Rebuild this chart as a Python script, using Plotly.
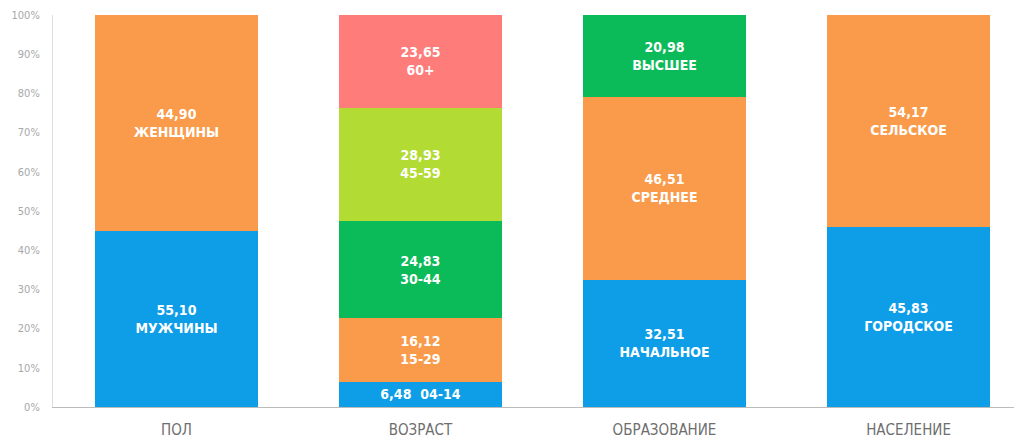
import plotly.graph_objects as go

categories = ["ПОЛ", "ВОЗРАСТ", "ОБРАЗОВАНИЕ", "НАСЕЛЕНИЕ"]

# segment heights per stacking level (bottom to top)
level1_values = [44.90, 6.48, 32.51, 45.83]
level2_values = [55.10, 16.12, 46.51, 54.17]
level3_values = [None, 24.83, 20.98, None]
level4_values = [None, 28.93, None, None]
level5_values = [None, 23.65, None, None]

# labels printed inside the segments
level1_labels = ["55,10<br>МУЖЧИНЫ", "6,48  04-14", "32,51<br>НАЧАЛЬНОЕ", "45,83<br>ГОРОДСКОЕ"]
level2_labels = ["44,90<br>ЖЕНЩИНЫ", "16,12<br>15-29", "46,51<br>СРЕДНЕЕ", "54,17<br>СЕЛЬСКОЕ"]
level3_labels = ["", "24,83<br>30-44", "20,98<br>ВЫСШЕЕ", ""]
level4_labels = ["", "28,93<br>45-59", "", ""]
level5_labels = ["", "23,65<br>60+", "", ""]

y_tickvals = [0, 10, 20, 30, 40, 50, 60, 70, 80, 90, 100]
y_ticktext = ["0%", "10%", "20%", "30%", "40%", "50%", "60%", "70%", "80%", "90%", "100%"]

colors = ["#0E9EE8", "#F99B4A", "#0BBA59", "#B2DB34", "#FE7C79"]
levels = [
    (level1_values, level1_labels),
    (level2_values, level2_labels),
    (level3_values, level3_labels),
    (level4_values, level4_labels),
    (level5_values, level5_labels),
]

FONT = "DejaVu Sans Condensed, DejaVu Sans, sans-serif"
label_font = dict(family=FONT, size=14, color="white")

fig = go.Figure()
for (vals, labs), col in zip(levels, colors):
    fig.add_trace(go.Bar(
        x=categories,
        y=vals,
        text=labs,
        texttemplate="<b>%{text}</b>",
        textposition="inside",
        insidetextanchor="middle",
        textangle=0,
        insidetextfont=label_font,
        marker=dict(color=col, line=dict(width=0)),
        width=0.668,
        hoverinfo="skip",
        showlegend=False,
    ))

fig.update_layout(
    barmode="stack",
    width=1022,
    height=438,
    margin=dict(l=45, r=8, t=7, b=39),
    paper_bgcolor="white",
    plot_bgcolor="white",
    uniformtext=dict(minsize=14, mode="show"),
    xaxis=dict(
        type="category",
        range=[-0.506, 3.465],
        automargin=False,
        showgrid=False,
        showline=True,
        linecolor="#BBBBBB",
        linewidth=1,
        ticks="",
        ticklabelstandoff=9,
        tickfont=dict(family=FONT, size=15, color="#6E6E6E"),
        fixedrange=True,
    ),
    yaxis=dict(
        range=[0, 100],
        automargin=False,
        tickvals=y_tickvals,
        ticktext=y_ticktext,
        showgrid=False,
        zeroline=False,
        showline=True,
        linecolor="#DDDDDD",
        linewidth=1,
        ticks="",
        ticklabelstandoff=10,
        tickfont=dict(family=FONT, size=11, color="#A8A8A8"),
        fixedrange=True,
    ),
)

fig.write_html("out.html")
